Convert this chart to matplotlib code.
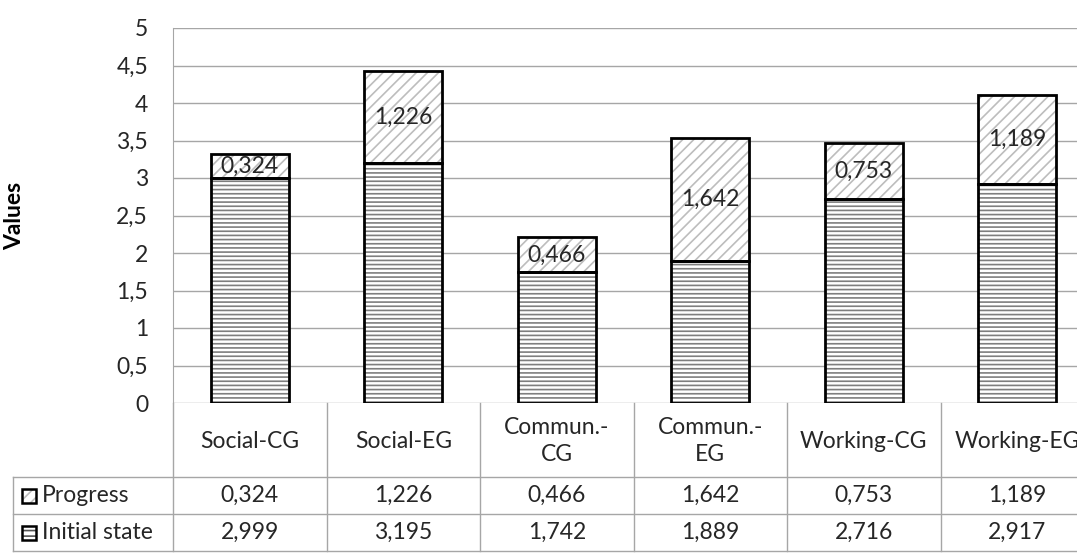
import numpy as np
import matplotlib.pyplot as plt
from matplotlib.patches import Rectangle

plt.rcParams['font.family'] = ['Lato', 'DejaVu Sans']
plt.rcParams['hatch.linewidth'] = 1.2

categories = ['Social-CG', 'Social-EG', 'Commun.-\nCG', 'Commun.-\nEG', 'Working-CG', 'Working-EG']
initial = [2.999, 3.195, 1.742, 1.889, 2.716, 2.917]
progress = [0.324, 1.226, 0.466, 1.642, 0.753, 1.189]
yticks = [0, 0.5, 1, 1.5, 2, 2.5, 3, 3.5, 4, 4.5, 5]

W, H = 1077, 554
fig = plt.figure(figsize=(W / 100, H / 100), dpi=100)
# plot area runs past the right edge, like the cropped original
ax = fig.add_axes([173 / W, 1 - 403 / H, 921 / W, 375 / H])
tab = fig.add_axes([173 / W, 1 - 551 / H, 921 / W, 148 / H])

grid_c = '#a6a6a6'
txt_c = '#262626'
x = np.arange(len(categories))
bw = 0.51
fs = 16.5

for y in yticks[1:]:
    ax.axhline(y, color=grid_c, lw=1, zorder=0)

ini = np.array(initial)
pro = np.array(progress)
# hatch layers (gray) then black outlines
ax.bar(x, ini, bw, color='white', edgecolor='#7f7f7f', hatch='----', lw=0, zorder=2)
ax.bar(x, pro, bw, bottom=ini, color='white', edgecolor='#bdbdbd', hatch='///', lw=0, zorder=2)
ax.bar(x, ini, bw, fill=False, edgecolor='black', lw=2, zorder=3)
ax.bar(x, pro, bw, bottom=ini, fill=False, edgecolor='black', lw=2, zorder=3)

for i in range(len(x)):
    ax.text(x[i], ini[i] + pro[i] / 2, f'{progress[i]:.3f}'.replace('.', ','),
            ha='center', va='center', fontsize=fs, color=txt_c, zorder=4)

ax.set_xlim(-0.5, len(x) - 0.5)
ax.set_ylim(0, 5)
ax.set_yticks(yticks)
ax.set_yticklabels([f'{v:g}'.replace('.', ',') for v in yticks], fontsize=fs, color=txt_c)
ax.set_xticks([])
ax.tick_params(axis='y', length=0, pad=18)
for s in ['top', 'right', 'bottom']:
    ax.spines[s].set_visible(False)
ax.spines['left'].set_color(grid_c)
ax.axhline(0, color=grid_c, lw=1, zorder=1)
ax.set_ylabel('Values', fontsize=fs, fontweight='bold')
ax.yaxis.set_label_coords(-(173 - 25) / 921, 0.5)

# data table under the chart
tab.set_xlim(-0.5, len(x) - 0.5)
tab.set_ylim(148, 0)
tab.axis('off')
colw = 921 / 6
left = -0.5 - 160 / colw
lk = dict(color=grid_c, lw=1, clip_on=False)
tab.plot([left, 5.5], [74, 74], **lk)
tab.plot([left, 5.5], [111, 111], **lk)
tab.plot([left, 5.5], [147.5, 147.5], **lk)
tab.plot([left, left], [74, 147.5], **lk)
for b in np.arange(-0.5, 6, 1):
    tab.plot([b, b], [0, 147.5], **lk)

for i in range(len(x)):
    tab.text(x[i], 38, categories[i], ha='center', va='center', fontsize=fs,
             color=txt_c, linespacing=1.35)
    tab.text(x[i], 92.5, f'{progress[i]:.3f}'.replace('.', ','), ha='center', va='center',
             fontsize=fs, color=txt_c)
    tab.text(x[i], 129.5, f'{initial[i]:.3f}'.replace('.', ','), ha='center', va='center',
             fontsize=fs, color=txt_c)

sq = 14 / colw
for yc, name, hatch, hc in [(92.5, 'Progress', '///', '#bdbdbd'), (129.5, 'Initial state', '---', '#555555')]:
    x0 = left + 9 / colw
    tab.add_patch(Rectangle((x0, yc - 7), sq, 14, facecolor='white', edgecolor=hc,
                            hatch=hatch, lw=0, clip_on=False))
    tab.add_patch(Rectangle((x0, yc - 7), sq, 14, fill=False, edgecolor='black',
                            lw=1.8, clip_on=False))
    tab.text(x0 + sq + 6 / colw, yc, name, ha='left', va='center', fontsize=fs, color=txt_c)

fig.savefig('out.png', dpi=100)
